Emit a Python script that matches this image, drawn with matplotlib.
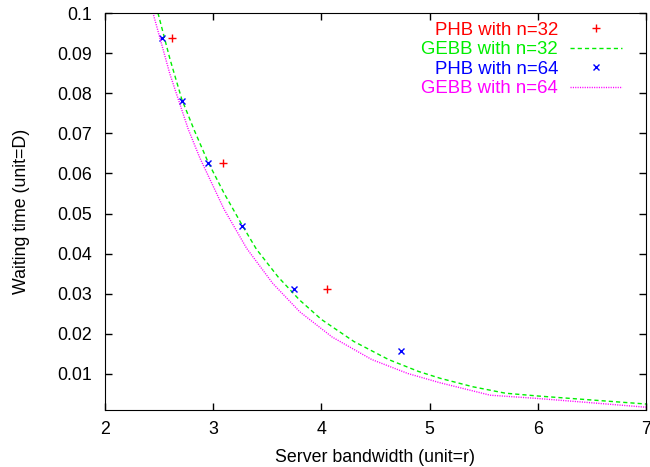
import matplotlib
matplotlib.use("Agg")
import matplotlib.pyplot as plt

# PHB measured points
phb32_x = [2.62, 3.09, 4.05]
phb32_y = [0.09375, 0.0625, 0.03125]
phb64_x = [2.53, 2.71, 2.95, 3.27, 3.75, 4.74]
phb64_y = [0.09375, 0.078125, 0.0625, 0.046875, 0.03125, 0.015625]

# GEBB curves
gebb32_x = [2.45, 2.49, 2.6, 2.71, 2.825, 2.95, 3.1, 3.27, 3.4, 3.6, 3.8, 4.0,
            4.3, 4.62, 4.9, 5.1, 5.4, 5.7, 6.0, 6.5, 7.0]
gebb32_y = [0.104, 0.1, 0.0886, 0.0785, 0.0708, 0.063, 0.0551, 0.047, 0.0411,
            0.0342, 0.0284, 0.0236, 0.0181, 0.0136, 0.0106, 0.0089, 0.0068,
            0.0052, 0.0045, 0.0035, 0.0025]
gebb64_x = [2.40, 2.444, 2.6, 2.77, 2.878, 3.1, 3.31, 3.55, 3.8, 4.1, 4.465,
            4.8, 5.096, 5.56, 5.99, 6.5, 7.0]
gebb64_y = [0.105, 0.1, 0.0848, 0.071, 0.0638, 0.0511, 0.0413, 0.0326, 0.0255,
            0.0192, 0.0136, 0.0101, 0.0078, 0.0047, 0.0039, 0.0028, 0.0017]

plt.rcParams['font.family'] = ['Liberation Sans', 'DejaVu Sans']
plt.rcParams['font.size'] = 12.8

fig = plt.figure(figsize=(6.5, 4.67), dpi=100)
ax = fig.add_axes([0.1615, 0.122, 0.8323, 0.850])

ax.plot(phb32_x, phb32_y, linestyle='none', marker='+', color='#ff0000',
        markersize=6, markeredgewidth=1, label='PHB with n=32')
ax.plot(gebb32_x, gebb32_y, color='#00ee00', linewidth=1, dashes=(3, 2.2),
        label='GEBB with n=32')
ax.plot(phb64_x, phb64_y, linestyle='none', marker='x', color='#0000ff',
        markersize=5, markeredgewidth=1, label='PHB with n=64')
ax.plot(gebb64_x, gebb64_y, color='#ff00ff', linewidth=1, dashes=(0.8, 0.9),
        label='GEBB with n=64')

ax.set_xlim(2, 7)
ax.set_ylim(0.001, 0.1)
ax.set_xticks([2, 3, 4, 5, 6, 7])
ax.set_yticks([0.01, 0.02, 0.03, 0.04, 0.05, 0.06, 0.07, 0.08, 0.09, 0.1])
ax.set_yticklabels(['0.01', '0.02', '0.03', '0.04', '0.05', '0.06', '0.07',
                    '0.08', '0.09', '0.1'])
ax.tick_params(direction='in', length=5, width=1, top=True, right=True)
ax.tick_params(axis='y', pad=9)
ax.tick_params(axis='x', pad=8)

ax.set_xlabel('Server bandwidth (unit=r)', labelpad=8)
ax.set_ylabel('Waiting time (unit=D)', labelpad=20)

leg = ax.legend(loc='upper right', bbox_to_anchor=(0.956, 0.978),
                frameon=False, markerfirst=False, handlelength=2.8,
                handletextpad=0.65, labelspacing=0.13, borderpad=0,
                borderaxespad=0, numpoints=1, fontsize=13.4)
for txt, col in zip(leg.get_texts(), ['#ff0000', '#00ee00', '#0000ff', '#ff00ff']):
    txt.set_color(col)

fig.savefig('out.png', dpi=100)
